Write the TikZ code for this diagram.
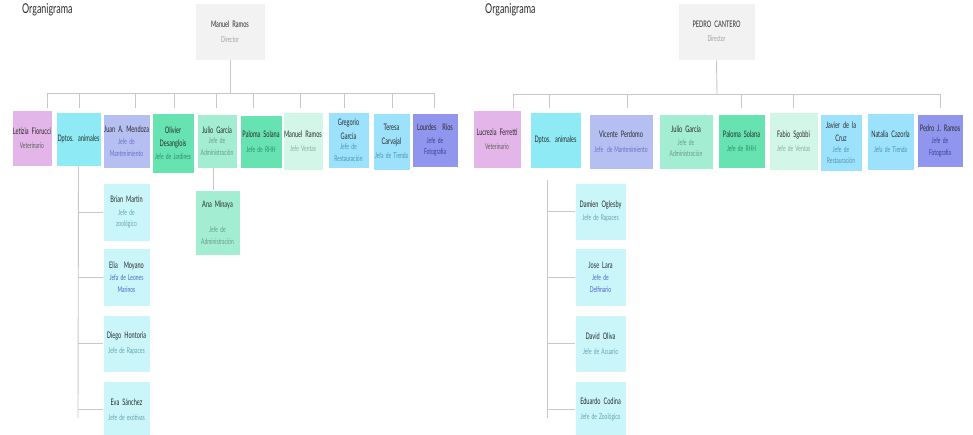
\documentclass[tikz,border=0pt]{standalone}
\usepackage{fontspec}
\setmainfont[FakeStretch=0.62]{Lato}
\newfontfamily\titlefont[FakeStretch=0.66]{Lato}
\usetikzlibrary{fit}
\definecolor{cDir}{HTML}{F2F2F2}
\definecolor{cViolet}{HTML}{E3B5E8}
\definecolor{cCyan}{HTML}{8EEBF6}
\definecolor{cLav}{HTML}{B6BFF2}
\definecolor{cGreen}{HTML}{66E3B0}
\definecolor{cLGreen}{HTML}{A3EED2}
\definecolor{cMint}{HTML}{D2F7E8}
\definecolor{cLBlue}{HTML}{9DE2FC}
\definecolor{cPeri}{HTML}{9096EE}
\definecolor{cSub}{HTML}{CAF6FA}
\definecolor{cLine}{HTML}{C8C8C8}
\definecolor{tName}{HTML}{2A2A2A}
\definecolor{tGray}{HTML}{606060}
\definecolor{tDir}{HTML}{A0A0A0}
\definecolor{tLav}{HTML}{6A72C4}
\definecolor{tGreen}{HTML}{2F8F6A}
\definecolor{tLGreen}{HTML}{6A9A88}
\definecolor{tMint}{HTML}{8AAE9F}
\definecolor{tBlue}{HTML}{5692AA}
\definecolor{tPeri}{HTML}{3A3F90}
\definecolor{tSub}{HTML}{66A2AC}
\definecolor{tSubB}{HTML}{5060C8}
\newcommand\nm{\fontsize{9}{13.5}\selectfont\spaceskip=1.6pt plus 0.5pt}
\newcommand\rl{\fontsize{8}{11.5}\selectfont\spaceskip=1.4pt plus 0.5pt}
\tikzset{
  conn/.style={draw=cLine, line width=0.9pt},
  boxbg/.style={inner sep=0pt, draw=white, line width=0.7pt},
  boxtxt/.style={align=center, text width=90pt, inner sep=0pt, text=tName, font=\nm},
  title/.style={anchor=base west, inner sep=0pt, text=tName, font=\titlefont\fontsize{13.5}{16}\selectfont},
}
\newcommand\ob[7]{%
  \node[boxbg, fill=#6, fit={(#2,#3) (#4,#5)}] (#1) {};
  \node[boxtxt] (#1-t) at (#1.center) {#7};}
\newcommand\rr[2]{{\rl\color{#1}#2}}
\begin{document}
\begin{tikzpicture}[x=1pt,y=-1pt]
\useasboundingbox[fill=white] (0,0) rectangle (973,434);

% ---------------- left chart ----------------
\node[title] (ltitle) at (22,13) {Organigrama};
\ob{ldir}{195}{3}{265}{60}{cDir}{Manuel Ramos\\[1pt]\rr{tDir}{Director}}
\ob{llf}{12}{110}{52}{166}{cViolet}{Letizia Fiorucci\\[1pt]\rr{tGray}{Veterinario}}
\ob{ldpt}{56}{112}{101}{166}{cCyan}{Dptos. animales}
\ob{ljm}{103}{114}{150}{168}{cLav}{Juan A. Mendoza\\[1pt]\rr{tLav}{Jefe de\\[-2pt]Mantenimiento}}
\ob{lod}{152}{113}{194}{173}{cGreen}{Olivier\\Desanglois\\[-1pt]\rr{tGreen}{Jefe de Jardines}}
\ob{ljg}{197}{114}{237}{168}{cLGreen}{Julio García\\[-1pt]\rr{tLGreen}{Jefe de\\[-2pt]Administración}}
\ob{lps}{240}{115}{282}{168}{cGreen}{Paloma Solana\\[1pt]\rr{tGreen}{Jefe de RHH}}
\ob{lmr}{283}{112}{323}{170}{cMint}{Manuel Ramos\\[1pt]\rr{tMint}{Jefe Ventas}}
\ob{lgg}{328}{112}{369}{168}{cLBlue}{Gregorio\\García\\[-1pt]\rr{tBlue}{Jefe de\\[-2pt]Restauración}}
\ob{ltc}{373}{113}{410}{170}{cLBlue}{Teresa\\Carvajal\\[1pt]\rr{tBlue}{Jefa de Tienda}}
\ob{llr}{412}{113}{458}{167}{cPeri}{Lourdes\ \ Ríos\\[1pt]\rr{tPeri}{Jefe de\\[-2pt]Fotografía}}
\ob{lbm}{103}{183}{150}{241}{cSub}{Brian Martin\\[1pt]\rr{tSub}{Jefe de\\[-2pt]zoológico}}
\ob{lem}{103}{248}{150}{306}{cSub}{Elia\ \ Moyano\\[1pt]\rr{tSubB}{Jefa de Leones\\[-2pt]Marinos}}
\ob{ldh}{103}{315}{150}{372}{cSub}{Diego Hontoria\\[1pt]\rr{tSub}{Jefe de Rapaces}}
\ob{les}{103}{381}{150}{438}{cSub}{Eva Sánchez\\[1pt]\rr{tSub}{Jefe de exótivas}}
\ob{lam}{195}{190}{240}{255}{cLGreen}{Ana Minaya\\[14pt]\rr{tLGreen}{Jefe de\\[-2pt]Administración}}

\coordinate (lbus) at (230,93);
\draw[conn] (ldir.south) -- (lbus);
\foreach \x [count=\i] in {47,79,135,174,216,253,300,344,392,434}{
  \coordinate (lb\i) at (\x,93);
  \coordinate (ld\i) at (\x,108);
  \draw[conn] (lb\i) -- (ld\i);
}
\draw[conn] (lb1) -- (lb10);
\coordinate (lsv) at (78,418);
\draw[conn] (ldpt.south) -- (lsv);
\foreach \n in {lbm,lem,ldh,les}{
  \draw[conn] (\n.west -| lsv) -- (\n.west);
}
\draw[conn] ([xshift=-4pt]ljg.south) -- ([xshift=-4pt]ljg.south |- lam.north);

% ---------------- right chart ----------------
\node[title] (rtitle) at (485,13) {Organigrama};
\ob{rdir}{678}{3}{755}{60}{cDir}{PEDRO CANTERO\\[1pt]\rr{tDir}{Director}}
\ob{rlf}{473}{110}{521}{168}{cViolet}{Lucrezia Ferretti\\[1pt]\rr{tGray}{Veterinario}}
\ob{rdpt}{530}{112}{581}{168}{cCyan}{Dptos. animales}
\ob{rvp}{589}{114}{653}{169}{cLav}{Vicente Perdomo\\[1pt]\rr{tLav}{Jefe\ \ de Mantenimiento}}
\ob{rjg}{659}{114}{713}{169}{cLGreen}{Julio García\\[1pt]\rr{tLGreen}{Jefe de\\[-2pt]Administración}}
\ob{rps}{718}{114}{765}{168}{cGreen}{Paloma Solana\\[1pt]\rr{tGreen}{Jefe de RHH}}
\ob{rfs}{769}{112}{818}{170}{cMint}{Fabio Sgobbi\\[1pt]\rr{tMint}{Jefe de Ventas}}
\ob{rjc}{820}{114}{862}{171}{cLBlue}{Javier de la\\Cruz\\[-1pt]\rr{tBlue}{Jefe de\\[-2pt]Restauración}}
\ob{rnc}{867}{113}{914}{170}{cLBlue}{Natalia Cazorla\\[1pt]\rr{tBlue}{Jefa de Tienda}}
\ob{rpr}{917}{114}{963}{167}{cPeri}{Pedro J. Ramos\\[1pt]\rr{tPeri}{Jefe de\\[-2pt]Fotografía}}
\ob{rdo}{575}{183}{626}{240}{cSub}{Damien Oglesby\\[-1pt]\rr{tSub}{Jefe de Rapaces}}
\ob{rjl}{575}{248}{626}{306}{cSub}{Jose Lara\\[1pt]\rr{tSubB}{Jefe de\\[-2pt]Delfinario}}
\ob{rdv}{575}{315}{626}{372}{cSub}{David Oliva\\[1pt]\rr{tSub}{Jefe de Acuario}}
\ob{rec}{575}{381}{626}{438}{cSub}{Eduardo Codina\\[1pt]\rr{tSub}{Jefe de Zoológico}}

\coordinate (rbus) at (717,94);
\draw[conn] (rdir.south) -- (rbus);
\foreach \x [count=\i] in {513,549,627,741,793,940}{
  \coordinate (rb\i) at (\x,94);
  \coordinate (rd\i) at (\x,108);
  \draw[conn] (rb\i) -- (rd\i);
}
\draw[conn] (rb1) -- (rb6);
\coordinate (rsv1) at (547,180);
\coordinate (rsv2) at (547,418);
\draw[conn] (rsv1) -- (rsv2);
\foreach \n in {rdo,rjl,rdv,rec}{
  \draw[conn] (\n.west -| rsv1) -- (\n.west);
}
\end{tikzpicture}
\end{document}
